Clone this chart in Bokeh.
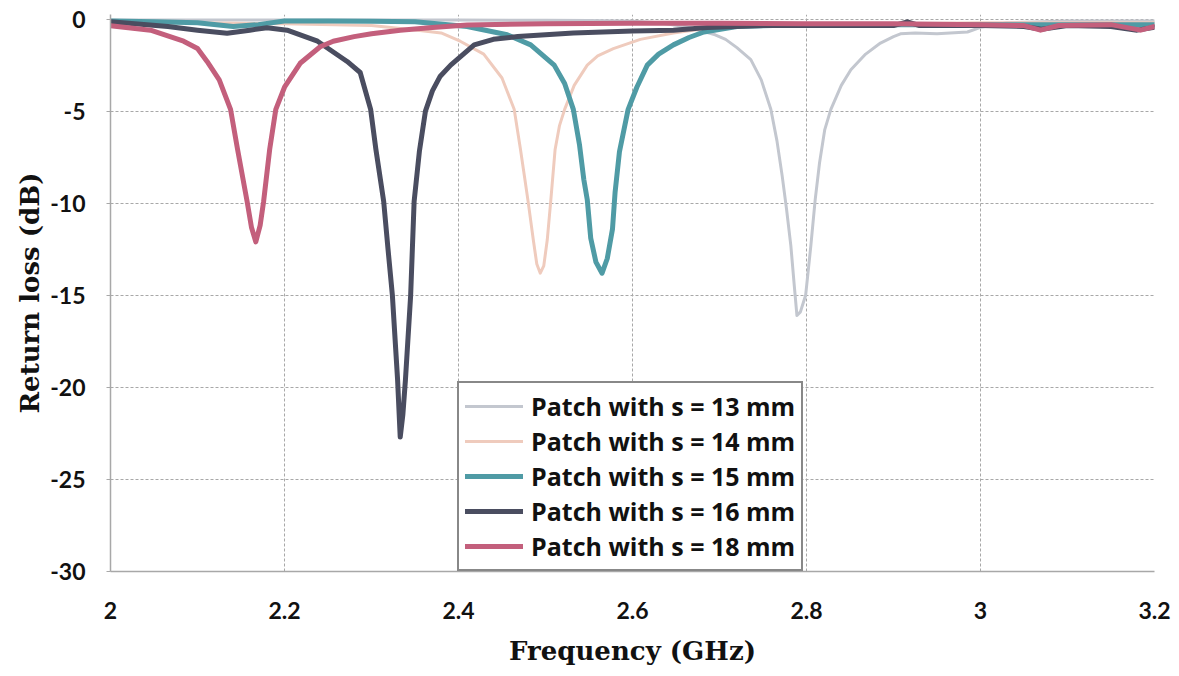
from bokeh.plotting import figure
from bokeh.models import Range1d, FixedTicker, Legend, LegendItem
from bokeh.embed import file_html
from bokeh.resources import INLINE

# ---------------- data ----------------
series_labels = ["Patch with s = 13 mm", "Patch with s = 14 mm", "Patch with s = 15 mm",
                 "Patch with s = 16 mm", "Patch with s = 18 mm"]

freq_13 = [2.0, 2.1, 2.2, 2.3, 2.4, 2.5, 2.55, 2.6, 2.63, 2.66, 2.68, 2.695, 2.707, 2.72, 2.736,
           2.748, 2.759, 2.766, 2.772, 2.777, 2.782, 2.786, 2.789, 2.793, 2.799, 2.805, 2.81, 2.815,
           2.821, 2.828, 2.84, 2.851, 2.868, 2.885, 2.9, 2.908, 2.925, 2.95, 2.985, 3.0, 3.03, 3.1, 3.2]
rl_13 = [-0.05, -0.05, -0.05, -0.05, -0.05, -0.06, -0.08, -0.12, -0.2, -0.4, -0.65, -0.85, -1.1, -1.55,
         -2.2, -3.3, -4.9, -6.6, -8.5, -10.3, -12.3, -14.5, -16.1, -15.9, -15.0, -12.3, -9.8, -7.8,
         -6.0, -4.9, -3.6, -2.75, -1.9, -1.3, -0.95, -0.8, -0.75, -0.8, -0.7, -0.45, -0.2, -0.1, -0.1]

freq_14 = [2.0, 2.1, 2.2, 2.3, 2.353, 2.38, 2.402, 2.429, 2.45, 2.464, 2.471, 2.476, 2.480, 2.486, 2.49,
           2.494, 2.498, 2.502, 2.506, 2.511, 2.516, 2.522, 2.533, 2.548, 2.56, 2.578, 2.609, 2.647,
           2.7, 2.8, 2.9, 3.0, 3.1, 3.2]
rl_14 = [-0.2, -0.2, -0.25, -0.35, -0.6, -0.75, -1.2, -1.9, -3.2, -4.9, -7.0, -8.6, -9.9, -12.0, -13.3,
         -13.8, -13.4, -12.0, -9.9, -7.1, -5.8, -4.9, -3.6, -2.5, -2.0, -1.6, -1.1, -0.75,
         -0.4, -0.3, -0.25, -0.2, -0.2, -0.2]

freq_15 = [2.0, 2.05, 2.1, 2.141, 2.17, 2.2, 2.25, 2.3, 2.35, 2.41, 2.456, 2.483, 2.51, 2.522, 2.532,
           2.539, 2.544, 2.548, 2.552, 2.558, 2.565, 2.571, 2.577, 2.58, 2.585, 2.595, 2.605, 2.617,
           2.63, 2.647, 2.665, 2.682, 2.72, 2.8, 2.9, 3.0, 3.1, 3.2]
rl_15 = [-0.1, -0.15, -0.2, -0.4, -0.3, -0.1, -0.1, -0.12, -0.15, -0.4, -0.85, -1.4, -2.5, -3.5, -4.9,
         -6.8, -8.7, -9.8, -11.9, -13.2, -13.8, -13.0, -11.4, -9.4, -7.2, -4.9, -3.7, -2.5,
         -1.9, -1.4, -1.0, -0.7, -0.4, -0.3, -0.3, -0.3, -0.3, -0.3]

freq_16 = [2.0, 2.066, 2.1, 2.134, 2.16, 2.18, 2.203, 2.238, 2.272, 2.287, 2.299, 2.305, 2.314, 2.319,
           2.324, 2.33, 2.333, 2.336, 2.339, 2.345, 2.349, 2.355, 2.362, 2.37, 2.379, 2.391, 2.418,
           2.44, 2.468, 2.532, 2.6, 2.647, 2.686, 2.75, 2.85, 2.9, 2.916, 2.93, 3.0, 3.05, 3.07, 3.1,
           3.15, 3.18, 3.2]
rl_16 = [-0.15, -0.4, -0.6, -0.77, -0.6, -0.47, -0.6, -1.2, -2.3, -2.9, -4.9, -7.06, -9.9, -12.5,
         -15.0, -19.6, -22.7, -21.5, -19.6, -15.0, -9.9, -7.2, -5.0, -3.9, -3.1, -2.5, -1.4,
         -1.1, -0.95, -0.75, -0.65, -0.6, -0.45, -0.35, -0.35, -0.35, -0.15, -0.35, -0.35, -0.4, -0.55,
         -0.35, -0.4, -0.6, -0.45]

freq_18 = [2.0, 2.046, 2.084, 2.1, 2.111, 2.125, 2.138, 2.146, 2.157, 2.162, 2.167, 2.172, 2.176, 2.183,
           2.19, 2.2, 2.218, 2.241, 2.256, 2.28, 2.3, 2.333, 2.37, 2.41, 2.5, 2.6, 2.7, 2.8, 2.9, 3.0,
           3.05, 3.069, 3.09, 3.15, 3.184, 3.2]
rl_18 = [-0.36, -0.6, -1.2, -1.6, -2.3, -3.3, -4.9, -7.06, -9.9, -11.3, -12.1, -11.2, -9.9, -7.06,
         -4.9, -3.7, -2.4, -1.5, -1.2, -0.95, -0.8, -0.6, -0.45, -0.32, -0.25, -0.22, -0.22, -0.25,
         -0.25, -0.3, -0.35, -0.6, -0.35, -0.3, -0.6, -0.4]

x_ticks = [2.0, 2.2, 2.4, 2.6, 2.8, 3.0, 3.2]
x_tick_labels = ["2", "2.2", "2.4", "2.6", "2.8", "3", "3.2"]
y_ticks = [-30, -25, -20, -15, -10, -5, 0]
y_tick_labels = ["-30", "-25", "-20", "-15", "-10", "-5", "0"]

colors = ["#c3c7cf", "#efcbbd", "#4f9ba5", "#4a4d60", "#c35f7c"]
widths = [3, 3, 5, 5, 5]

# ---------------- figure ----------------
p = figure(width=1171, height=668, output_backend="svg", toolbar_location=None,
           x_range=Range1d(2.0, 3.2), y_range=Range1d(-30, 0.25),
           min_border_left=110, min_border_right=17, min_border_top=14, min_border_bottom=93)
p.outline_line_color = None
p.background_fill_color = "white"
p.border_fill_color = "white"

grid_color = "#a8a8a8"
for ax in (p.xaxis[0], p.yaxis[0]):
    ax.axis_line_color = grid_color
    ax.axis_line_width = 1.5
    ax.minor_tick_line_color = None
    ax.major_label_text_font = "Lato"
    ax.major_label_text_font_style = "bold"
    ax.major_label_text_font_size = "23px"
    ax.major_label_text_color = "#111111"
    ax.axis_label_text_font = "DejaVu Serif"
    ax.axis_label_text_font_style = "bold"
    ax.axis_label_text_font_size = "26px"
    ax.axis_label_text_color = "#111111"

p.xaxis.ticker = FixedTicker(ticks=x_ticks)
p.xaxis.major_label_overrides = dict(zip(x_ticks, x_tick_labels))
p.xaxis.major_tick_line_color = None
p.xaxis.major_tick_out = 0
p.xaxis.major_tick_in = 0
p.xaxis.major_label_standoff = 30
p.xaxis.axis_label = "Frequency (GHz)"
p.xaxis.axis_label_standoff = 14

p.yaxis.ticker = FixedTicker(ticks=y_ticks)
p.yaxis.major_label_overrides = dict(zip(y_ticks, y_tick_labels))
p.yaxis.major_tick_line_color = grid_color
p.yaxis.major_tick_out = 4
p.yaxis.major_tick_in = 0
p.yaxis.major_label_standoff = 21
p.yaxis.axis_label = "Return loss (dB)"
p.yaxis.axis_label_standoff = 2

p.xgrid.ticker = FixedTicker(ticks=x_ticks[1:])
p.ygrid.ticker = FixedTicker(ticks=y_ticks[1:])
for g in (p.xgrid[0], p.ygrid[0]):
    g.grid_line_color = grid_color
    g.grid_line_dash = "3 2"
    g.grid_line_width = 1

all_freq = [freq_13, freq_14, freq_15, freq_16, freq_18]
all_rl = [rl_13, rl_14, rl_15, rl_16, rl_18]
items = []
for f, r, c, w, lab in zip(all_freq, all_rl, colors, widths, series_labels):
    rend = p.line(f, r, line_color=c, line_width=w, line_join="round", line_cap="round")
    items.append(LegendItem(label=lab, renderers=[rend]))

legend = Legend(items=items, location=(347, 0))
legend.label_text_font = "Open Sans"
legend.label_text_font_style = "bold"
legend.label_text_font_size = "25px"
legend.label_text_color = "#111111"
legend.glyph_width = 58
legend.glyph_height = 30
legend.label_height = 30
legend.label_standoff = 8
legend.spacing = 1
legend.padding = 6
legend.margin = 0
legend.border_line_color = "#111111"
legend.border_line_width = 2
legend.background_fill_color = "white"
legend.background_fill_alpha = 1
p.add_layout(legend, "center")

open("out.html", "w").write(file_html(p, INLINE))
